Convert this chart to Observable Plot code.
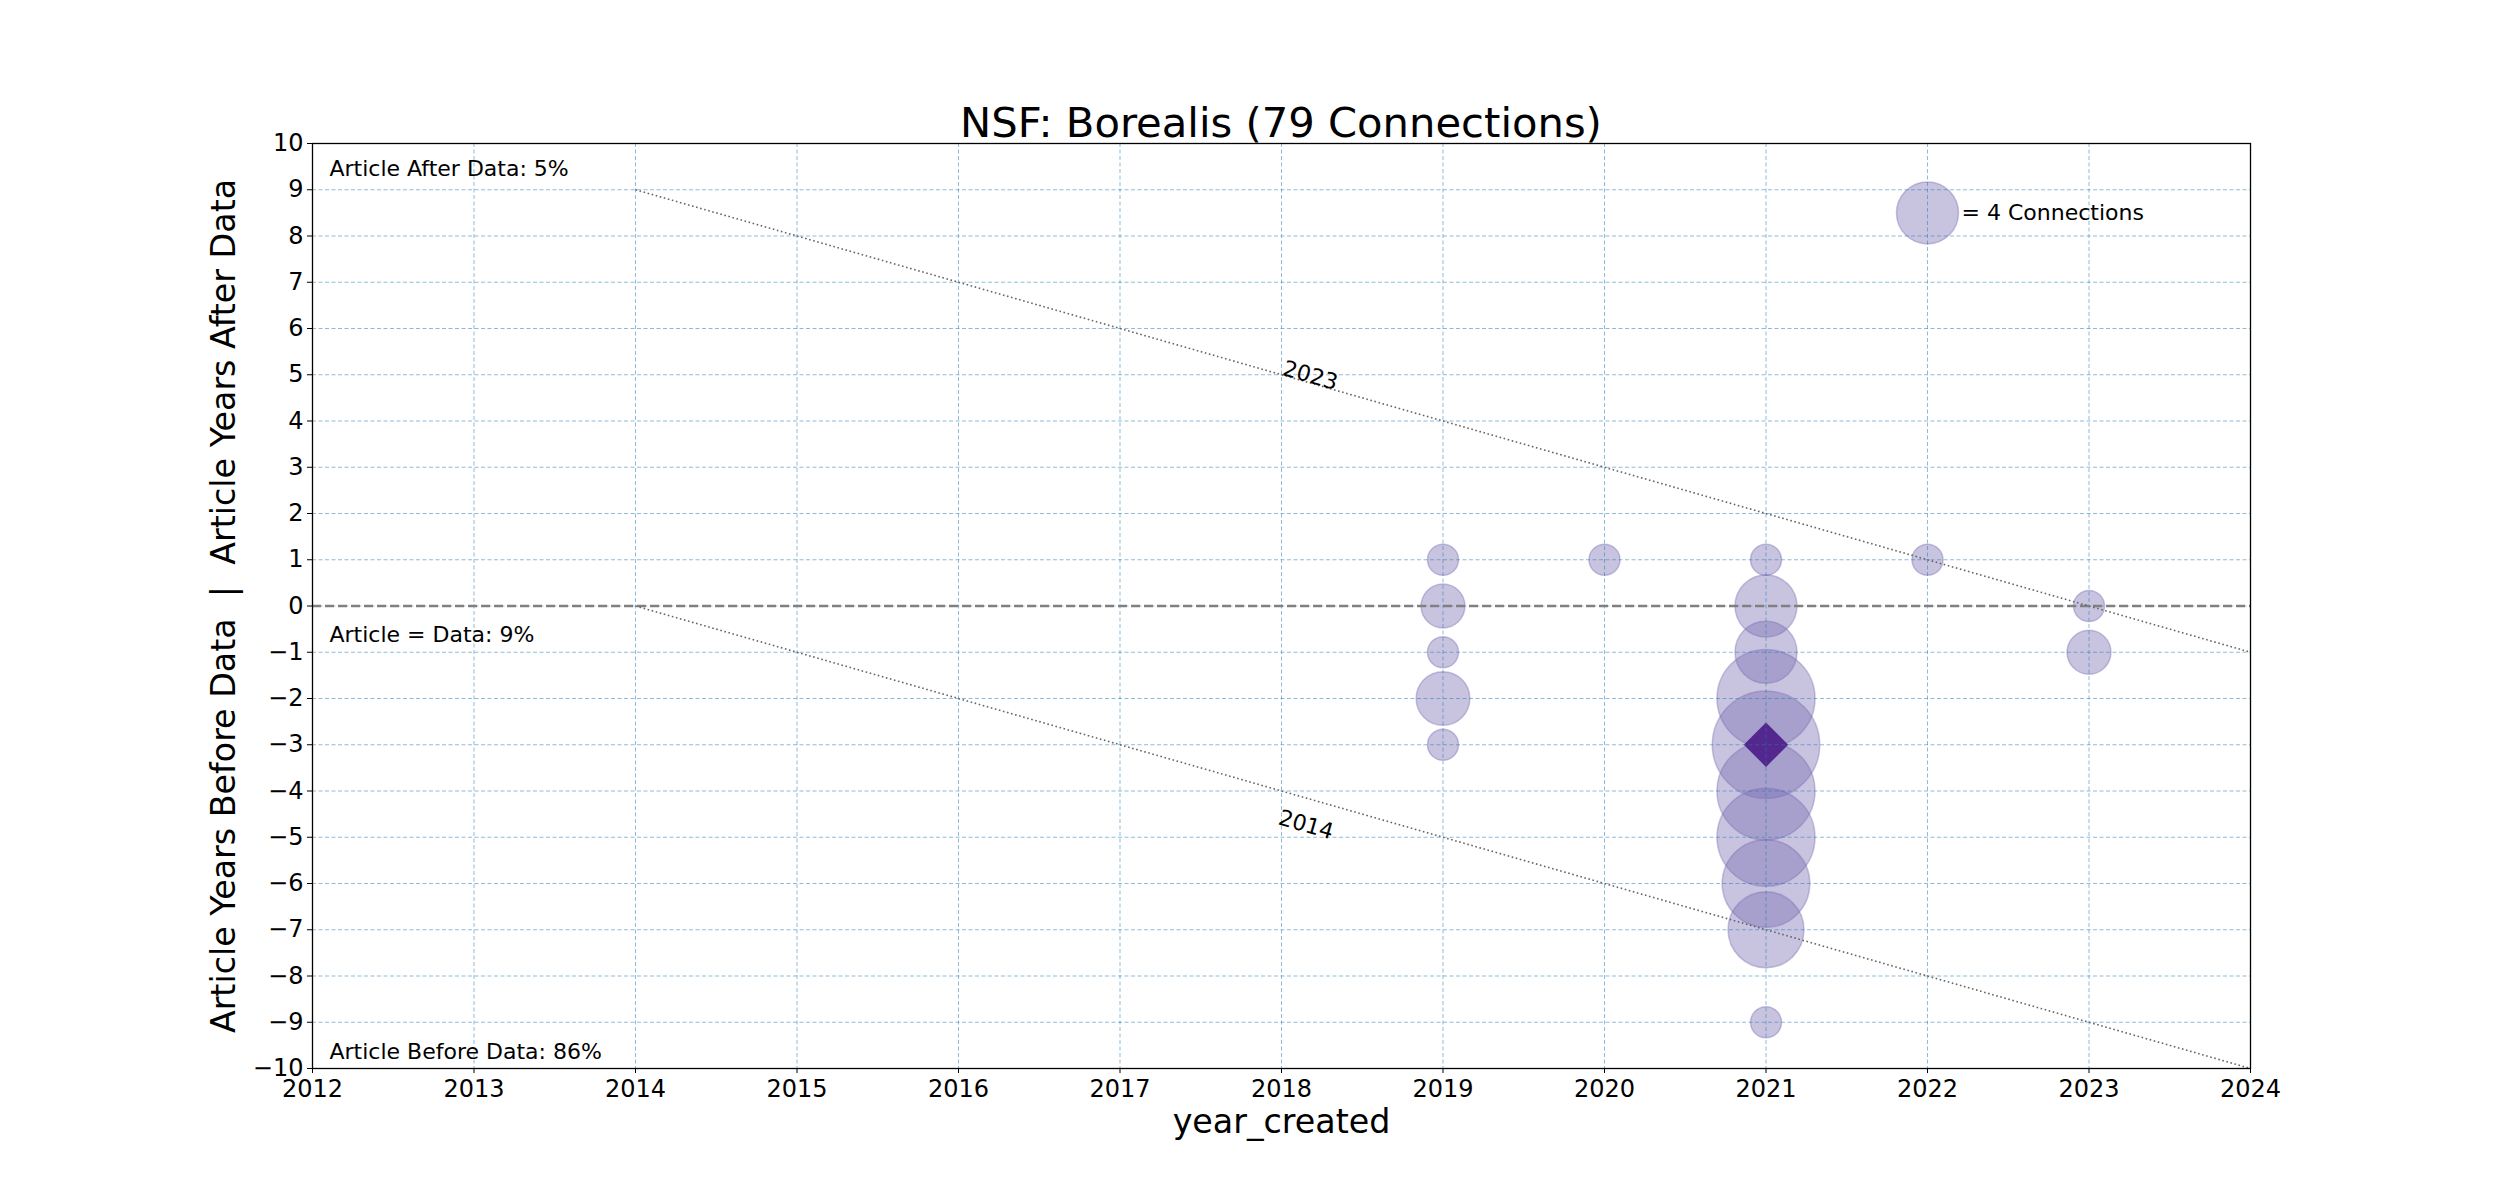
<!DOCTYPE html>
<html>
<head>
<meta charset="utf-8">
<script src="https://cdn.jsdelivr.net/npm/d3@7"></script>
<script src="https://cdn.jsdelivr.net/npm/@observablehq/plot@0.6"></script>
<style>
  body { margin: 0; background: white; font-family: "DejaVu Sans", sans-serif; }
  #title { margin-left: 312px; width: 1938px; text-align: center; padding-top: 102px; height: 42px; line-height: 42px; font-size: 41.7px; color: black; }
  #chart svg { display: block; margin-top: -24px; }
</style>
</head>
<body>
<div id="title">NSF: Borealis (79 Connections)</div>
<div id="chart"></div>
<script>
// ---- data ----
const yearCreated = [2019, 2019, 2019, 2019, 2019, 2020, 2021, 2021, 2021, 2021, 2021, 2021, 2021, 2021, 2021, 2021, 2022, 2023, 2023];
const yearOffset  = [1, 0, -1, -2, -3, 1, 1, 0, -1, -2, -3, -4, -5, -6, -7, -9, 1, 0, -1];
const connections = [1, 2, 1, 3, 1, 1, 1, 4, 4, 10, 12, 10, 10, 8, 6, 1, 1, 1, 2];

const medianYear = [2021];
const medianOffset = [-3];

const refArticleYears = [2023, 2014];
const refLineStart = 2014;
const refLineEnd = 2024;
const refLabelYear = 2018;

const legendCount = [4];
const legendYear = [2022];
const legendOffset = [8.5];

const xTicks = [2012, 2013, 2014, 2015, 2016, 2017, 2018, 2019, 2020, 2021, 2022, 2023, 2024];
const yTicks = [-10, -9, -8, -7, -6, -5, -4, -3, -2, -1, 0, 1, 2, 3, 4, 5, 6, 7, 8, 9, 10];

const shareAfter = "Article After Data: 5%";
const shareEqual = "Article = Data: 9%";
const shareBefore = "Article Before Data: 86%";

// ---- tables built from the arrays ----
const bubbles = yearCreated.map((x, i) => ({x, y: yearOffset[i], n: connections[i]}));
const median = medianYear.map((x, i) => ({x, y: medianOffset[i]}));
const refLines = refArticleYears.map(r => ({r, x1: refLineStart, y1: r - refLineStart, x2: refLineEnd, y2: r - refLineEnd}));
const refLabels = refArticleYears.map(r => ({r, x: refLabelYear, y: r - refLabelYear}));
const legend = legendYear.map((x, i) => ({x, y: legendOffset[i], n: legendCount[i]}));

const purple = "#756bb1";
const gridColor = "#1f77b4";

const chart = Plot.plot({
  width: 2500,
  height: 1080,
  marginTop: 23,
  marginLeft: 312,
  marginRight: 250,
  marginBottom: 132,
  style: {fontFamily: "DejaVu Sans", fontSize: "22px", background: "white", overflow: "visible"},
  x: {domain: [2012, 2024]},
  y: {domain: [-10, 10]},
  r: {type: "sqrt", domain: [0, 4], range: [0, 31]},
  marks: [
    Plot.dot(bubbles, {x: "x", y: "y", r: "n", fill: purple, fillOpacity: 0.4, stroke: purple, strokeOpacity: 0.4, strokeWidth: 1.5}),
    Plot.dot(legend, {x: "x", y: "y", r: "n", fill: purple, fillOpacity: 0.4, stroke: purple, strokeOpacity: 0.4, strokeWidth: 1.5}),
    Plot.dot(median, {x: "x", y: "y", symbol: "diamond2", r: 20, fill: "#54278f", stroke: null}),
    Plot.gridX(xTicks, {stroke: gridColor, strokeOpacity: 0.5, strokeWidth: 1, strokeDasharray: "4,2.5"}),
    Plot.gridY(yTicks, {stroke: gridColor, strokeOpacity: 0.5, strokeWidth: 1, strokeDasharray: "4,2.5"}),
    Plot.ruleY([0], {stroke: "#808080", strokeWidth: 2.5, strokeDasharray: "9,4"}),
    Plot.link(refLines, {x1: "x1", y1: "y1", x2: "x2", y2: "y2", stroke: "#666", strokeWidth: 1.6, strokeDasharray: "1.6,2.6"}),
    Plot.text(refLabels.filter(d => d.r === 2023), {x: "x", y: "y", text: d => String(d.r), rotate: 16, textAnchor: "start", lineAnchor: "bottom", fontSize: 22, fill: "black"}),
    Plot.text(refLabels.filter(d => d.r === 2014), {x: "x", y: "y", text: d => String(d.r), rotate: 16, textAnchor: "start", lineAnchor: "top", dy: 18, fontSize: 22, fill: "black"}),
    Plot.text(legend, {x: "x", y: "y", text: d => `= ${d.n} Connections`, textAnchor: "start", dx: 34, fontSize: 22, fill: "black"}),
    Plot.text([shareAfter], {frameAnchor: "top-left", text: d => d, textAnchor: "start", lineAnchor: "middle", dx: 17, dy: 25, fontSize: 22, fill: "black"}),
    Plot.text([shareEqual], {x: () => 2012, y: () => 0, text: d => d, textAnchor: "start", lineAnchor: "middle", dx: 17, dy: 29, fontSize: 22, fill: "black"}),
    Plot.text([shareBefore], {frameAnchor: "bottom-left", text: d => d, textAnchor: "start", lineAnchor: "middle", dx: 17, dy: -17, fontSize: 22, fill: "black"}),
    Plot.frame({stroke: "black", strokeWidth: 1.3}),
    Plot.axisX({ticks: xTicks, tickFormat: d => String(d), tickSize: 5, tickPadding: 6, label: null, fontSize: 24}),
    Plot.axisY({ticks: yTicks, tickFormat: d3.format("d"), tickSize: 5, tickPadding: 4, label: null, fontSize: 24}),
    Plot.text(["year_created"], {frameAnchor: "bottom", text: d => d, textAnchor: "middle", lineAnchor: "middle", dy: 54, fontSize: 33.3, fill: "black"}),
    Plot.text(["Article Years Before Data  |  Article Years After Data"], {frameAnchor: "left", text: d => d, rotate: -90, textAnchor: "middle", lineAnchor: "middle", dx: -88, fontSize: 33.3, fill: "black"})
  ]
});
document.getElementById("chart").appendChild(chart);
</script>
</body>
</html>
